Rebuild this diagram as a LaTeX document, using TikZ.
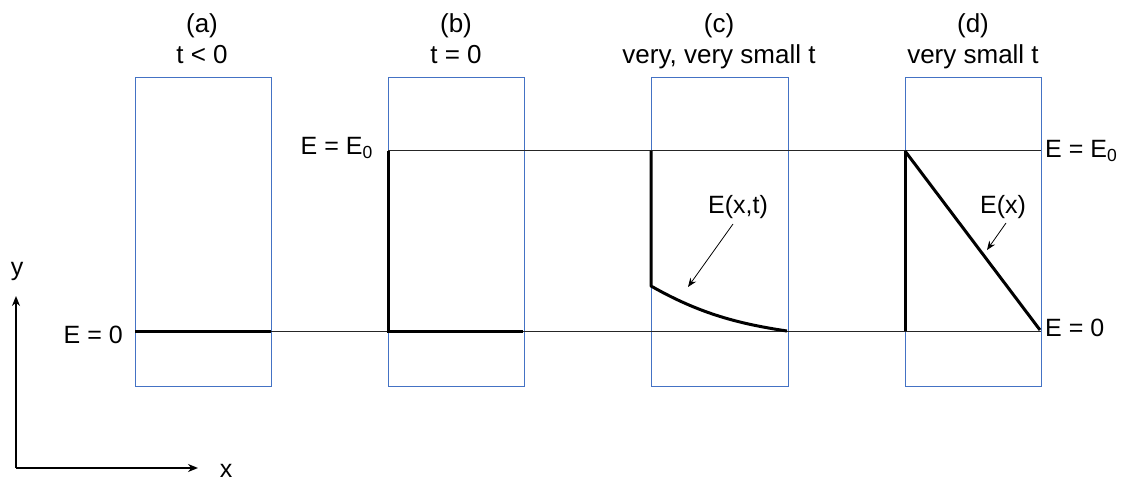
\documentclass[tikz,border=0pt]{standalone}
\usepackage{fontspec}
\setmainfont{Liberation Sans}
\usetikzlibrary{arrows.meta}
\definecolor{boxblue}{RGB}{68,114,196}
\begin{document}
\begin{tikzpicture}[x=1pt,y=-1pt,
  panel/.style={draw=boxblue,line width=1pt},
  level/.style={draw=black!85,line width=1pt},
  field/.style={draw=black,line width=3pt},
  lab/.style={font=\fontsize{25}{30}\selectfont,inner sep=0pt},
  ttl/.style={font=\fontsize{26}{30}\selectfont,inner sep=0pt,anchor=base},
  pointer/.style={draw=black,line width=0.8pt,-{Stealth[length=9pt,width=7pt]}},
  axis/.style={draw=black,line width=2pt,-{Stealth[length=10pt,width=8pt]}}]
\useasboundingbox (0,0) rectangle (1125,481);
% panels
\draw[panel] (135,78) rectangle (271,386);
\draw[panel] (388,78) rectangle (524,386);
\draw[panel] (651,78) rectangle (788,386);
\draw[panel] (905,78) rectangle (1041,386);
% level lines
\coordinate (e0l) at (388,151);
\coordinate (e0r) at (1041,151);
\coordinate (z0l) at (135,331);
\coordinate (z0r) at (1041,331);
\draw[level] (e0l) -- (e0r);
\draw[level] (z0l) -- (z0r);
% fields
\draw[field] (135,331) -- (271,331);
\draw[field,line join=miter] (388,151) -- (388,331) -- (523,331);
\draw[field,line join=round] (651,151) -- (651,286) .. controls (700,314) and (740,324) .. (787,331);
\draw[field] (905,151) -- (905,331);
\draw[field] (905,151) -- (1040,330);
% titles
\node[ttl] (ta) at (202,33) {(a)};
\node[ttl] (tta) at (202,64) {t < 0};
\node[ttl] (tb) at (456,33) {(b)};
\node[ttl] (ttb) at (456,64) {t = 0};
\node[ttl] (tc) at (719,33) {(c)};
\node[ttl] (ttc) at (719,64) {very, very small t};
\node[ttl] (td) at (973,33) {(d)};
\node[ttl] (ttd) at (973,64) {very small t};
% level labels
\node[lab,anchor=base east] (le0) at (373,155) {E = E\textsubscript{0}};
\node[lab,anchor=base east] (lz0) at (123,343) {E = 0};
\node[lab,anchor=base west] (re0) at (1045,158) {E = E\textsubscript{0}};
\node[lab,anchor=base west] (rz0) at (1045,336) {E = 0};
% pointers
\node[lab,anchor=base] (exm) at (738,214) {E(x,t)};
\coordinate (exmtip) at (688,287);
\draw[pointer] (733,224) -- (exmtip);
\node[lab,anchor=base] (ex) at (1003,214) {E(x)};
\coordinate (extip) at (987,250);
\draw[pointer] (1006,223) -- (extip);
% axes
\coordinate (orig) at (16,468);
\coordinate (ytip) at (16,296);
\coordinate (xtip) at (198,468);
\draw[axis] (orig) -- (ytip);
\draw[axis] (orig) -- (xtip);
\node[lab,anchor=base] (ylab) at (17,276) {y};
\node[lab,anchor=base] (xlab) at (226,477) {x};
\end{tikzpicture}
\end{document}
